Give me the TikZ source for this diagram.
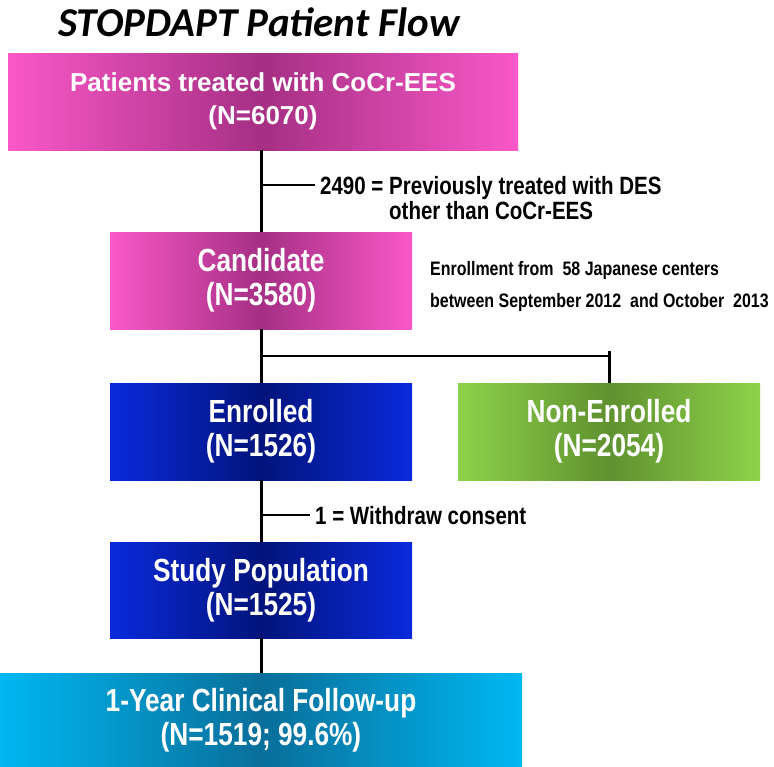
\documentclass[tikz,border=0pt]{standalone}
\usepackage{fontspec}
\setmainfont{Liberation Sans}
\newfontfamily\narrowfont[FakeStretch=0.82]{Liberation Sans}
\newfontfamily\titlefont{Carlito}
\usepackage{tikz}
\usetikzlibrary{calc}

\definecolor{pinkout}{HTML}{FA58C8}
\definecolor{pinkin}{HTML}{962878}
\definecolor{blueout}{HTML}{0A2ADC}
\definecolor{bluein}{HTML}{00106A}
\definecolor{greenout}{HTML}{8ED24A}
\definecolor{greenin}{HTML}{5A8A2C}
\definecolor{cyanout}{HTML}{00B8F2}
\definecolor{cyanin}{HTML}{0A6690}

\begin{document}
\begin{tikzpicture}[x=1pt,y=1pt,
	box/.style={minimum width=302pt, minimum height=97pt, inner sep=0pt, align=center, text=white,
		font=\narrowfont\bfseries\fontsize{32}{34}\selectfont},
	pinkbox/.style={box, left color=pinkout, right color=pinkout, middle color=pinkin!85!pinkout},
	bluebox/.style={box, left color=blueout, right color=blueout, middle color=bluein!85!blueout},
	greenbox/.style={box, left color=greenout, right color=greenout, middle color=greenin!90!greenout},
	cyanbox/.style={box, left color=cyanout, right color=cyanout, middle color=cyanin!90!cyanout},
	note/.style={inner sep=5pt, align=left, font=\narrowfont\bfseries\fontsize{25}{25}\selectfont},
	smallnote/.style={inner sep=0pt, align=left, font=\narrowfont\bfseries\fontsize{19.5}{32}\selectfont},
	flow/.style={line width=3pt},
	side/.style={line width=2pt}]
	
	\useasboundingbox (0,0) rectangle (774,-766);
	
	% Draw the title
	\node[font=\titlefont\bfseries\itshape\fontsize{41}{41}\selectfont] (title) at (259,-22) {STOPDAPT Patient Flow};
	
	% Draw the boxes
	\node[pinkbox, minimum width=510pt, font=\bfseries\fontsize{26}{33}\selectfont] (treated) at (263,-101.5) {Patients treated with CoCr-EES\\(N=6070)};
	\node[pinkbox] (cand) at (261,-280.5) {Candidate\\(N=3580)};
	\node[bluebox] (enr) at (261,-431.5) {Enrolled\\(N=1526)};
	\node[greenbox] (nonenr) at (609,-431.5) {Non-Enrolled\\(N=2054)};
	\node[bluebox, minimum height=96pt] (study) at (261,-590) {Study Population\\(N=1525)};
	\node[cyanbox, minimum width=522pt, minimum height=94pt] (follow) at (261,-720) {1-Year Clinical Follow-up\\(N=1519; 99.6\%)};
	
	% Draw the side notes (base = last line)
	\node[note, anchor=base west] (exclnum) at (315,-194) {2490 =};
	\node[note, anchor=base west] (excltext) at (384,-219) {Previously treated with DES\\other than CoCr-EES};
	\node[smallnote, anchor=base west] (centers) at (430,-307) {Enrollment from~ 58 Japanese centers\\between September 2012~ and October~ 2013};
	\node[note, anchor=base west] (withdraw) at (310,-524) {1 = Withdraw consent};
	
	% Draw the main flow
	\draw[flow] (cand.north |- treated.south) -- (cand.north);
	\draw[flow] (cand.south) -- (enr.north);
	\draw[flow] (enr.south) -- (study.north);
	\draw[flow] (study.south) -- (follow.north);
	
	% Draw the branches
	\coordinate (split) at ($(cand.south)!0.5!(enr.north)$);
	\draw[side] (split) -- (split -| nonenr.north);
	\draw[flow] ([yshift=5pt]split -| nonenr.north) -- (nonenr.north);
	\draw[side] (cand.north |- exclnum.west) -- (exclnum.west);
	\draw[side] (enr.south |- withdraw.west) -- (withdraw.west);
\end{tikzpicture}
\end{document}
